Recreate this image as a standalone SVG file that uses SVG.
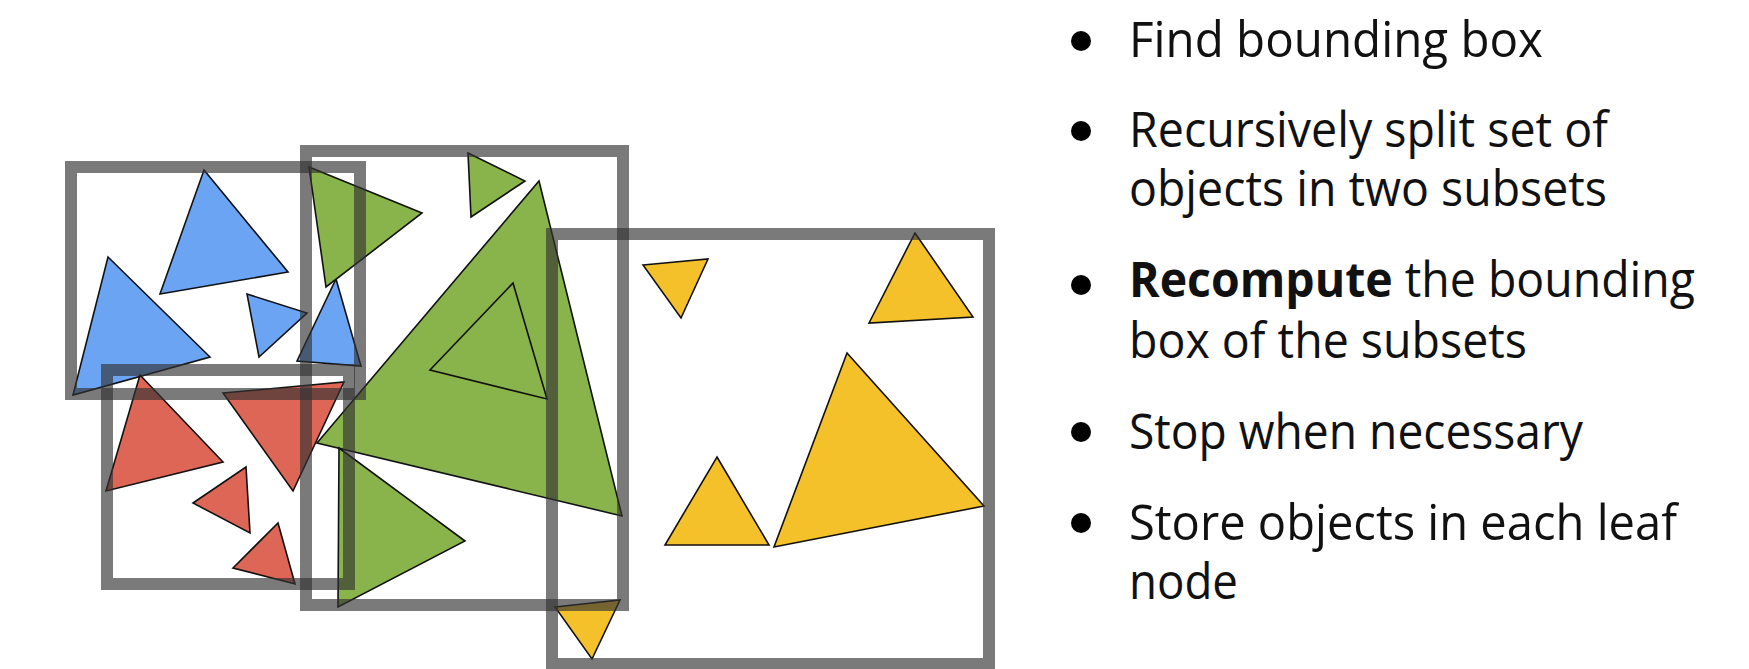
<svg xmlns="http://www.w3.org/2000/svg" width="1749" height="669" viewBox="0 0 1749 669">
<style>
.t{stroke:#111;stroke-width:1.6;stroke-linejoin:miter}
.b{fill:#6ba4f3}
.g{fill:#89b34b}
.r{fill:#de6656}
.y{fill:#f4c12b}
.box{fill:none;stroke:#333;stroke-opacity:0.65;stroke-width:12}
.txt{font-family:"Open Sans",Lato,"Liberation Sans",sans-serif;font-size:49px;fill:#111}
</style>
<rect width="1749" height="669" fill="#fff"/>
<g id="triangles">
<g id="blue">
<polygon class="t b" points="204,170 288,272 160,294"/>
<polygon class="t b" points="108,257 210,357 73,395"/>
<polygon class="t b" points="247,294 307,313 259,357"/>
<polygon class="t b" points="336,279 361,366 297,361"/>
</g>
<g id="green">
<polygon class="t g" points="309,167 422,213 326,287"/>
<polygon class="t g" points="468,153 525,181 471,217"/>
<polygon class="t g" points="539,181 622,516 317,443"/>
<polygon class="t g" points="513,283 547,399 430,370"/>
<polygon class="t g" points="339,448 465,541 338,607"/>
</g>
<g id="red">
<polygon class="t r" points="140,375 223,462 106,491"/>
<polygon class="t r" points="223,393 344,382 293,491"/>
<polygon class="t r" points="246,467 250,533 193,503"/>
<polygon class="t r" points="278,523 295,584 233,568"/>
</g>
<g id="yellow">
<polygon class="t y" points="643,265 708,259 681,318"/>
<polygon class="t y" points="915,233 973,317 869,323"/>
<polygon class="t y" points="847,353 984,506 774,547"/>
<polygon class="t y" points="717,457 769,545 665,545"/>
<polygon class="t y" points="555,607 620,600 592,659"/>
</g>
</g>
<g id="boxes">
<rect id="box-blue" class="box" x="71" y="167" width="289" height="227"/>
<rect id="box-green" class="box" x="306" y="151" width="317" height="454"/>
<rect id="box-red" class="box" x="107" y="370" width="242" height="214"/>
<rect id="box-yellow" class="box" x="552" y="234" width="437" height="430"/>
</g>
<g id="bullets" fill="#000">
<circle cx="1081" cy="41" r="10"/>
<circle cx="1081" cy="131" r="10"/>
<circle cx="1081" cy="285" r="10"/>
<circle cx="1081" cy="432" r="10"/>
<circle cx="1081" cy="523" r="10"/>
</g>
<g id="text">
<text class="txt" x="1129" y="57" textLength="414" lengthAdjust="spacingAndGlyphs">Find bounding box</text>
<text class="txt" x="1129" y="147" textLength="479" lengthAdjust="spacingAndGlyphs">Recursively split set of</text>
<text class="txt" x="1129" y="206" textLength="478" lengthAdjust="spacingAndGlyphs">objects in two subsets</text>
<text class="txt" x="1129" y="297" textLength="566" lengthAdjust="spacingAndGlyphs"><tspan font-weight="700">Recompute</tspan> the bounding</text>
<text class="txt" x="1129" y="358" textLength="398" lengthAdjust="spacingAndGlyphs">box of the subsets</text>
<text class="txt" x="1129" y="449" textLength="454" lengthAdjust="spacingAndGlyphs">Stop when necessary</text>
<text class="txt" x="1129" y="540" textLength="548" lengthAdjust="spacingAndGlyphs">Store objects in each leaf</text>
<text class="txt" x="1129" y="599" textLength="109" lengthAdjust="spacingAndGlyphs">node</text>
</g>
</svg>
